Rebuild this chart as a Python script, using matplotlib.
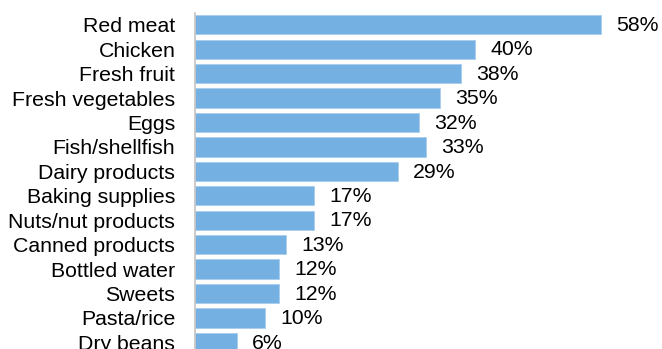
import matplotlib
matplotlib.use("Agg")
import matplotlib.pyplot as plt

# Share of respondents buying each food category
categories = [
    "Red meat", "Chicken", "Fresh fruit", "Fresh vegetables", "Eggs",
    "Fish/shellfish", "Dairy products", "Baking supplies", "Nuts/nut products",
    "Canned products", "Bottled water", "Sweets", "Pasta/rice", "Dry beans",
]
shares = [58, 40, 38, 35, 32, 33, 29, 17, 17, 13, 12, 12, 10, 6]

plt.rcParams["font.family"] = ["Liberation Sans", "DejaVu Sans"]

fig = plt.figure(figsize=(6.62, 3.49), dpi=100)
ax = fig.add_axes([0.2946, 0.0, 0.7054, 0.962])

positions = list(range(len(categories)))
ax.barh(positions, shares, height=0.79, color="#75B0E3",
        edgecolor="#A9CDEE", linewidth=0.6, zorder=2)

for pos, val in zip(positions, shares):
    ax.annotate(f"{val}%", xy=(val, pos), xytext=(11.0, -0.5),
                textcoords="offset points", ha="left", va="center",
                fontsize=15.3, color="black")

ax.set_yticks(positions)
ax.set_yticklabels(categories, fontsize=15.3)
ax.tick_params(axis="y", length=0, pad=14.2)
for lbl in ax.get_yticklabels():
    lbl.set_y(lbl.get_position()[1])
ax.set_xticks([])
ax.set_xlim(0, 66.7)
ax.set_ylim(13.27, -0.47)

for side in ("top", "right", "bottom"):
    ax.spines[side].set_visible(False)
ax.spines["left"].set_color("#C4C4C4")
ax.spines["left"].set_linewidth(1.2)
ax.spines["left"].set_zorder(3)

fig.savefig("out.png", dpi=100)
